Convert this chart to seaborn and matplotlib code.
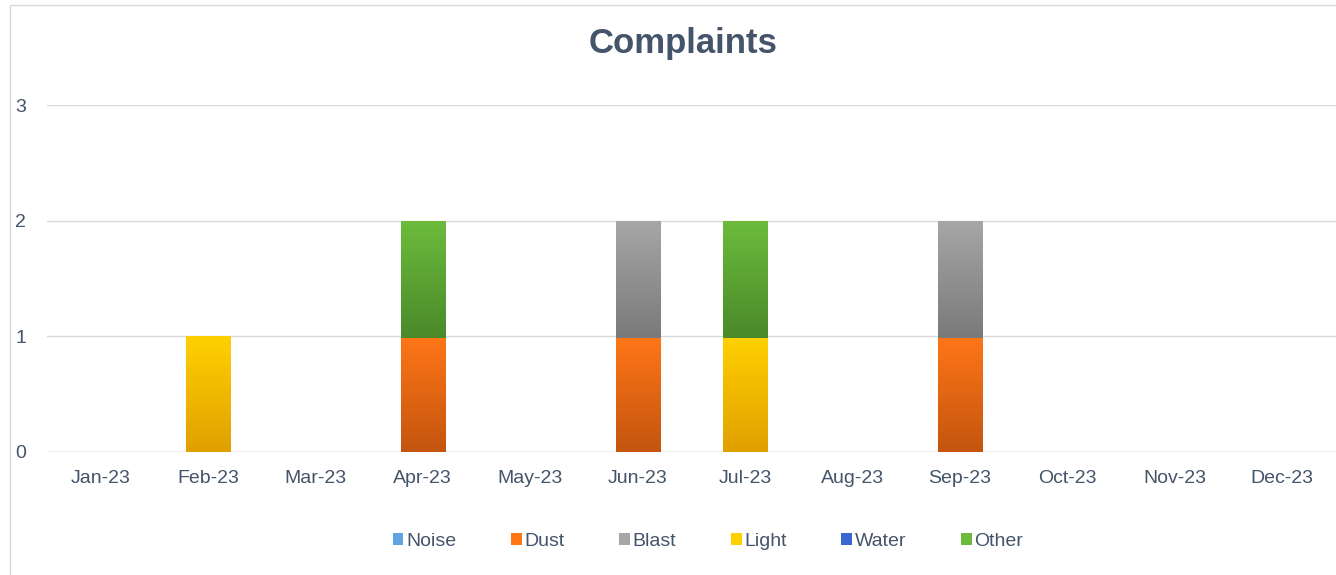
import numpy as np
import pandas as pd
import seaborn as sns
import matplotlib.pyplot as plt
from matplotlib.colors import LinearSegmentedColormap
from matplotlib.lines import Line2D
from matplotlib.patches import Patch

# data
months = ['Jan-23', 'Feb-23', 'Mar-23', 'Apr-23', 'May-23', 'Jun-23',
          'Jul-23', 'Aug-23', 'Sep-23', 'Oct-23', 'Nov-23', 'Dec-23']
noise = [0, 0, 0, 0, 0, 0, 0, 0, 0, 0, 0, 0]
dust = [0, 0, 0, 1, 0, 1, 0, 0, 1, 0, 0, 0]
blast = [0, 0, 0, 0, 0, 1, 0, 0, 1, 0, 0, 0]
light = [0, 1, 0, 0, 0, 0, 1, 0, 0, 0, 0, 0]
water = [0, 0, 0, 0, 0, 0, 0, 0, 0, 0, 0, 0]
other = [0, 0, 0, 1, 0, 0, 1, 0, 0, 0, 0, 0]

series = {'Noise': noise, 'Dust': dust, 'Blast': blast,
          'Light': light, 'Water': water, 'Other': other}

# (top colour, bottom colour) for the excel style gradient
grad = {
    'Noise': ('#5FA3E0', '#2E75B6'),
    'Dust': ('#FF7617', '#C4550F'),
    'Blast': ('#A6A6A6', '#7A7A7A'),
    'Light': ('#FFD000', '#E0A000'),
    'Water': ('#3A68D0', '#1F4AA8'),
    'Other': ('#6CBB3C', '#4A8A2A'),
}

text_col = '#44546A'
grid_col = '#D9D9D9'

sns.set_theme(style='white')
plt.rcParams['font.family'] = ['Liberation Sans', 'DejaVu Sans']

fig = plt.figure(figsize=(13.36, 5.75), dpi=100)
ax = fig.add_axes([0.035, 0.214, 0.965, 0.603])

bar_w = 0.41
bottom = np.zeros(len(months))
for name, vals in series.items():
    df = pd.DataFrame({'month': months, 'value': vals})
    n_before = len(ax.patches)
    sns.barplot(data=df, x='month', y='value', bottom=bottom, width=bar_w,
                color=grad[name][0], ax=ax, errorbar=None, zorder=3)
    cmap = LinearSegmentedColormap.from_list(name, [grad[name][1], grad[name][0]])
    for p in ax.patches[n_before:]:
        p.set_visible(False)
        h = p.get_height()
        if h <= 0:
            continue
        x0 = p.get_x()
        y0 = p.get_y()
        # small overlap so stacked pieces join without a white seam
        lo = y0 - 0.012 if y0 > 0 else y0
        ax.imshow(np.linspace(0, 1, 100).reshape(-1, 1), cmap=cmap,
                  extent=(x0, x0 + p.get_width(), lo, y0 + h),
                  origin='lower', aspect='auto', zorder=3,
                  interpolation='bilinear')
    bottom = bottom + np.array(vals)

ax.set_xlim(-0.5, 11.5)
ax.set_ylim(0, 3)
ax.set_yticks([0, 1, 2, 3])
ax.grid(axis='y', color=grid_col, linewidth=1, zorder=0)
ax.grid(axis='x', visible=False)
for s in ax.spines.values():
    s.set_visible(False)
ax.axhline(0, color=grid_col, linewidth=1, zorder=1)
ax.tick_params(axis='both', length=0, labelsize=14, labelcolor=text_col)
ax.tick_params(axis='y', pad=15)
ax.tick_params(axis='x', pad=13)
ax.set_xlabel('')
ax.set_ylabel('')

fig.text(0.511, 0.925, 'Complaints', ha='center', va='center',
         fontsize=25, fontweight='bold', color=text_col)

handles = [Patch(facecolor=grad[n][0], edgecolor='none', label=n) for n in series]
leg = fig.legend(handles=handles, loc='center', bbox_to_anchor=(0.53, 0.058),
                 ncol=6, frameon=False, fontsize=14, handlelength=0.55,
                 handleheight=0.55, handletextpad=0.15, columnspacing=2.8)
for t in leg.get_texts():
    t.set_color(text_col)

# light chart-area border (left and top visible in the crop)
fig.add_artist(Line2D([10 / 1336, 10 / 1336], [0, 1 - 5 / 575],
                      color=grid_col, linewidth=1, transform=fig.transFigure))
fig.add_artist(Line2D([10 / 1336, 1], [1 - 5 / 575, 1 - 5 / 575],
                      color=grid_col, linewidth=1, transform=fig.transFigure))

fig.savefig('out.png', dpi=100, facecolor='white')
